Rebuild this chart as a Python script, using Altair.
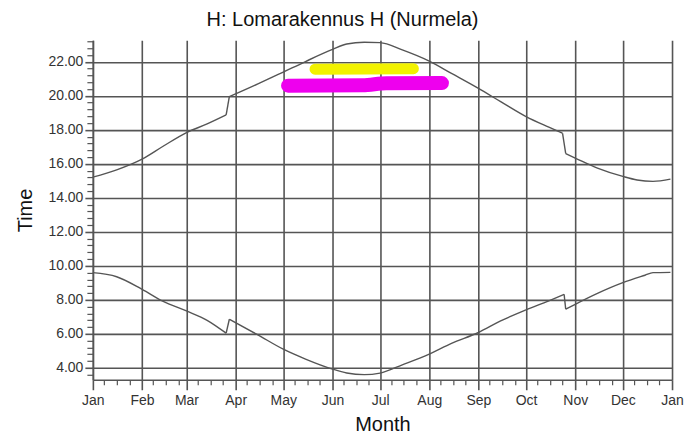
import altair as alt
import pandas as pd

# Sunset (upper curve): A = before DST, B = summer time, C = after DST
sunset_dates = ["2021-01-01", "2021-01-16", "2021-02-01", "2021-02-14", "2021-03-01",
                "2021-03-14", "2021-03-26",
                "2021-03-28", "2021-04-15", "2021-05-01", "2021-05-15", "2021-06-01",
                "2021-06-10", "2021-06-21", "2021-07-01", "2021-07-15", "2021-08-01",
                "2021-08-15", "2021-09-01", "2021-09-15", "2021-10-01", "2021-10-15",
                "2021-10-24",
                "2021-10-26", "2021-11-01", "2021-11-15", "2021-12-01", "2021-12-10",
                "2021-12-20", "2021-12-31"]
sunset_vals = [15.22, 15.65, 16.28, 17.02, 17.84,
               18.35, 18.88,
               19.95, 20.7, 21.4, 22.02, 22.73,
               23.05, 23.15, 23.13, 22.7, 22.04,
               21.32, 20.44, 19.66, 18.78, 18.17,
               17.8,
               16.6, 16.34, 15.75, 15.26, 15.05,
               14.97, 15.1]
sunset_segment = ["A"] * 7 + ["B"] * 16 + ["C"] * 7

# Sunrise (lower curve)
sunrise_dates = ["2021-01-01", "2021-01-16", "2021-02-01", "2021-02-14", "2021-03-01",
                 "2021-03-14", "2021-03-26",
                 "2021-03-28", "2021-04-15", "2021-05-01", "2021-05-15", "2021-06-01",
                 "2021-06-10", "2021-06-21", "2021-07-01", "2021-07-15", "2021-08-01",
                 "2021-08-15", "2021-09-01", "2021-09-15", "2021-10-01", "2021-10-15",
                 "2021-10-25",
                 "2021-10-26", "2021-11-01", "2021-11-15", "2021-12-01", "2021-12-15",
                 "2021-12-20", "2021-12-31"]
sunrise_vals = [9.6, 9.36, 8.62, 7.93, 7.35,
                6.8, 6.04,
                6.86, 5.94, 5.1, 4.52, 3.93,
                3.7, 3.6, 3.69, 4.18, 4.81,
                5.44, 6.08, 6.76, 7.41, 7.93,
                8.32,
                7.45, 7.74, 8.38, 9.01, 9.45,
                9.6, 9.62]
sunrise_segment = ["A"] * 7 + ["B"] * 16 + ["C"] * 7

# Highlight strokes
yellow_dates = ["2021-05-21", "2021-07-22"]
yellow_vals = [21.57, 21.6]
magenta_dates = ["2021-05-04", "2021-06-20", "2021-07-05", "2021-08-09"]
magenta_vals = [20.6, 20.62, 20.74, 20.75]

y_major = [4, 6, 8, 10, 12, 14, 16, 18, 20, 22]
y_minor = [3.6, 4.4, 4.8, 5.2, 5.6, 6.4, 6.8, 7.2, 7.6, 8.4, 8.8, 9.2, 9.6,
           10.4, 10.8, 11.2, 11.6, 12.4, 12.8, 13.2, 13.6, 14.4, 14.8, 15.2, 15.6,
           16.4, 16.8, 17.2, 17.6, 18.4, 18.8, 19.2, 19.6, 20.4, 20.8, 21.2, 21.6,
           22.4, 22.8, 23.2]

month_ticks = [alt.DateTime(year=2021, month=m, date=1, utc=True) for m in range(1, 13)] + \
              [alt.DateTime(year=2022, month=1, date=1, utc=True)]
minor_x_ticks = [alt.DateTime(year=2021, month=m, date=d, utc=True)
                 for m in range(1, 13) for d in (8, 16, 24)]

sunset_df = pd.DataFrame({"date": sunset_dates, "time": sunset_vals,
                          "seg": ["sunset" + s for s in sunset_segment]})
sunrise_df = pd.DataFrame({"date": sunrise_dates, "time": sunrise_vals,
                           "seg": ["sunrise" + s for s in sunrise_segment]})
curves = pd.concat([sunset_df, sunrise_df], ignore_index=True)

# DST jump connectors: last point of one segment to first point of the next
jump_rows = []
for df, name in ((sunset_df, "sunset"), (sunrise_df, "sunrise")):
    for a, b in (("A", "B"), ("B", "C")):
        last = df[df["seg"] == name + a].iloc[-1]
        first = df[df["seg"] == name + b].iloc[0]
        jump_rows.append({"date": last["date"], "time": last["time"], "seg": name + a + b})
        jump_rows.append({"date": first["date"], "time": first["time"], "seg": name + a + b})
jumps = pd.DataFrame(jump_rows)

blobs_y = pd.DataFrame({"date": yellow_dates, "time": yellow_vals})
blobs_m = pd.DataFrame({"date": magenta_dates, "time": magenta_vals})

FONT = "Liberation Sans"
GRID = "#555555"
LINE = "#555555"

xscale = alt.Scale(type="utc", domain=[alt.DateTime(year=2021, month=1, date=1, utc=True),
                                       alt.DateTime(year=2022, month=1, date=1, utc=True)])
yscale = alt.Scale(domain=[3.3, 23.27], nice=False, zero=False)

x_major_axis = alt.Axis(values=month_ticks, format="%b", labelFlush=False, labelOverlap=False,
                        grid=True, gridColor=GRID, gridWidth=1.6, gridOpacity=1,
                        tickSize=10, tickColor=GRID, tickWidth=1.6,
                        domainColor=GRID, domainWidth=1.6,
                        labelFont=FONT, labelFontSize=14, labelColor="#333333", labelPadding=4,
                        title="Month", titleFont=FONT, titleFontSize=20, titleFontWeight="normal",
                        titleColor="#111111", titleBaseline="alphabetic", titleY=51,
                        orient="bottom")
y_major_axis = alt.Axis(values=y_major, format=".2f", labelOverlap=False,
                        grid=True, gridColor=GRID, gridWidth=1.6, gridOpacity=1,
                        tickSize=8, tickColor=GRID, tickWidth=1.6,
                        domainColor=GRID, domainWidth=1.6,
                        labelFont=FONT, labelFontSize=14, labelColor="#333333", labelPadding=2,
                        title="Time", titleFont=FONT, titleFontSize=20, titleFontWeight="normal",
                        titleColor="#111111", titleX=-57, titleY=170,
                        orient="left")
x_minor_axis = alt.Axis(values=minor_x_ticks, labels=False, grid=False, domain=False,
                        tickSize=5, tickColor=GRID, tickWidth=1.2, title="", orient="bottom")
y_minor_axis = alt.Axis(values=y_minor, labels=False, grid=False, domain=False,
                        tickSize=6, tickColor=GRID, tickWidth=1.2, title="", orient="left")

X = alt.X("date:T", scale=xscale, axis=x_major_axis)
Y = alt.Y("time:Q", scale=yscale, axis=y_major_axis)

lines = alt.Chart(curves).mark_line(color=LINE, strokeWidth=1.4,
                                    interpolate="monotone").encode(
    x=X, y=Y, detail="seg:N",
)
jump_lines = alt.Chart(jumps).mark_line(color=LINE, strokeWidth=1.4).encode(
    x=X, y=Y, detail="seg:N",
)
yellow = alt.Chart(blobs_y).mark_line(color="#f2f200", strokeWidth=11, strokeCap="round",
                                      strokeJoin="round").encode(x=X, y=Y)
magenta = alt.Chart(blobs_m).mark_line(color="#ee00ee", strokeWidth=14, strokeCap="round",
                                       strokeJoin="round", interpolate="monotone").encode(x=X, y=Y)

main = alt.layer(lines, jump_lines, yellow, magenta)

minor = alt.Chart(curves).mark_point(opacity=0).encode(
    x=alt.X("date:T", scale=xscale, axis=x_minor_axis),
    y=alt.Y("time:Q", scale=yscale, axis=y_minor_axis),
)

chart = alt.layer(main, minor).resolve_axis(
    x="independent", y="independent"
).properties(
    width=580, height=340,
    autosize=alt.AutoSizeParams(type="none"),
    padding={"left": 85, "top": 32, "right": 20, "bottom": 57},
    title=alt.TitleParams("H: Lomarakennus H (Nurmela)", font=FONT, fontSize=20,
                          fontWeight="normal", color="#111111", anchor="middle",
                          offset=10, dx=-40),
    background="white",
).configure_view(stroke="transparent").configure_axis(labelOverlap=False)

chart.save("out.html", embed_options={"renderer": "svg", "actions": False})
